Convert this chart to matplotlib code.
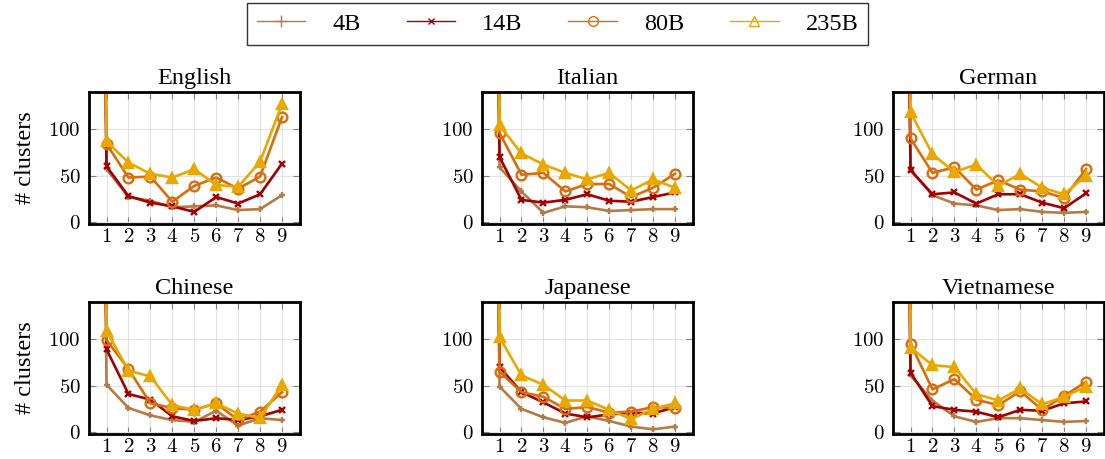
import matplotlib
matplotlib.use('Agg')
import matplotlib.pyplot as plt
from matplotlib.lines import Line2D

# x=0 point lies far above the plotted range (only the rising line is visible)
steps = [0, 1, 2, 3, 4, 5, 6, 7, 8, 9]
models = ['4B', '14B', '80B', '235B']
languages = ['English', 'Italian', 'German', 'Chinese', 'Japanese', 'Vietnamese']

english = {
    '4B':   [2000, 57, 27, 23, 16, 17, 18, 13, 14, 29],
    '14B':  [2000, 60, 28, 21, 17, 11, 27, 20, 30, 63],
    '80B':  [2000, 84, 48, 49, 22, 39, 48, 36, 49, 113],
    '235B': [2000, 87, 64, 52, 48, 57, 40, 38, 65, 127],
}
italian = {
    '4B':   [2000, 59, 33, 10, 17, 16, 12, 13, 14, 14],
    '14B':  [2000, 70, 24, 21, 24, 30, 23, 22, 27, 32],
    '80B':  [2000, 96, 51, 53, 33, 41, 41, 27, 37, 52],
    '235B': [2000, 104, 74, 62, 53, 46, 53, 34, 46, 37],
}
german = {
    '4B':   [2000, 56, 29, 20, 18, 13, 14, 11, 10, 11],
    '14B':  [2000, 56, 30, 32, 20, 30, 30, 21, 15, 31],
    '80B':  [2000, 90, 53, 59, 35, 45, 35, 33, 26, 57],
    '235B': [2000, 118, 73, 54, 62, 39, 52, 37, 30, 50],
}
chinese = {
    '4B':   [2000, 51, 26, 18, 13, 11, 23, 7, 15, 13],
    '14B':  [2000, 89, 41, 35, 17, 12, 15, 13, 17, 24],
    '80B':  [2000, 99, 68, 31, 26, 24, 31, 13, 22, 43],
    '235B': [2000, 109, 66, 60, 29, 24, 31, 20, 15, 51],
}
japanese = {
    '4B':   [2000, 49, 25, 16, 10, 17, 12, 6, 3, 6],
    '14B':  [2000, 70, 43, 32, 20, 16, 19, 21, 20, 27],
    '80B':  [2000, 65, 43, 38, 25, 27, 21, 22, 27, 26],
    '235B': [2000, 102, 61, 51, 34, 34, 24, 14, 25, 31],
}
vietnamese = {
    '4B':   [2000, 61, 34, 17, 11, 15, 15, 13, 11, 12],
    '14B':  [2000, 64, 28, 24, 22, 16, 24, 23, 31, 33],
    '80B':  [2000, 95, 46, 57, 35, 29, 44, 24, 39, 54],
    '235B': [2000, 91, 72, 70, 41, 34, 47, 30, 38, 49],
}
all_data = [english, italian, german, chinese, japanese, vietnamese]

colors = {'4B': '#b57b45', '14B': '#a00000', '80B': '#d96d0e', '235B': '#e8a800'}
markers = {'4B': '+', '14B': 'x', '80B': 'o', '235B': '^'}

serif = ['Liberation Serif', 'DejaVu Serif']
tickfont = 'cmr10'
plt.rcParams['axes.formatter.use_mathtext'] = True

fig = plt.figure(figsize=(11.05, 4.59), dpi=100)

lefts = [89, 482, 893]
tops = [92, 302]
w, h = 211, 132

for k, (lang, data) in enumerate(zip(languages, all_data)):
    r, c = divmod(k, 3)
    ax = fig.add_axes([lefts[c] / 1105, (459 - tops[r] - h) / 459, w / 1105, h / 459])
    for m in models:
        mfc = 'none' if m == '80B' else colors[m]
        ax.plot(steps, data[m], color=colors[m], lw=1.9, marker=markers[m],
                markersize=7 if m in ('80B', '235B') else 5, mew=1.7,
                mfc=mfc, mec=colors[m], clip_on=True)
    ax.set_xlim(0.2, 9.82)
    ax.set_ylim(-2, 140)
    ax.set_xticks(range(1, 10))
    ax.set_yticks([0, 50, 100])
    ax.grid(color='#e3e3e3', lw=0.8)
    ax.set_axisbelow(True)
    ax.tick_params(direction='in', length=5, width=0.8, color='#808080',
                   top=True, right=True, labelsize=15)
    ax.tick_params(axis='x', pad=3)
    ax.tick_params(axis='y', pad=6)
    for lab in ax.get_xticklabels() + ax.get_yticklabels():
        lab.set_family(tickfont)
    for s in ax.spines.values():
        s.set_linewidth(2)
    ax.set_title(lang, fontsize=17.5, family=serif, pad=6)
    if c == 0:
        ax.set_ylabel('# clusters', fontsize=17.5, family=serif, labelpad=9)

handles = []
for m in models:
    handles.append(Line2D([], [], color=colors[m], lw=1.0, marker=markers[m],
                          markersize=7 if m in ('80B', '235B') else (9 if m == '4B' else 5),
                          mew=1.0, mfc='none', mec=colors[m]))
leg = fig.legend(handles, models, loc='center', bbox_to_anchor=(0.5045, 0.948),
                 ncol=4, frameon=True, fancybox=False, edgecolor='black',
                 prop={'family': serif, 'size': 17.5}, handlelength=2.0,
                 handletextpad=1.1, columnspacing=1.9, borderpad=0.4)
leg.get_frame().set_linewidth(1.0)

fig.savefig('out.png', dpi=100)
